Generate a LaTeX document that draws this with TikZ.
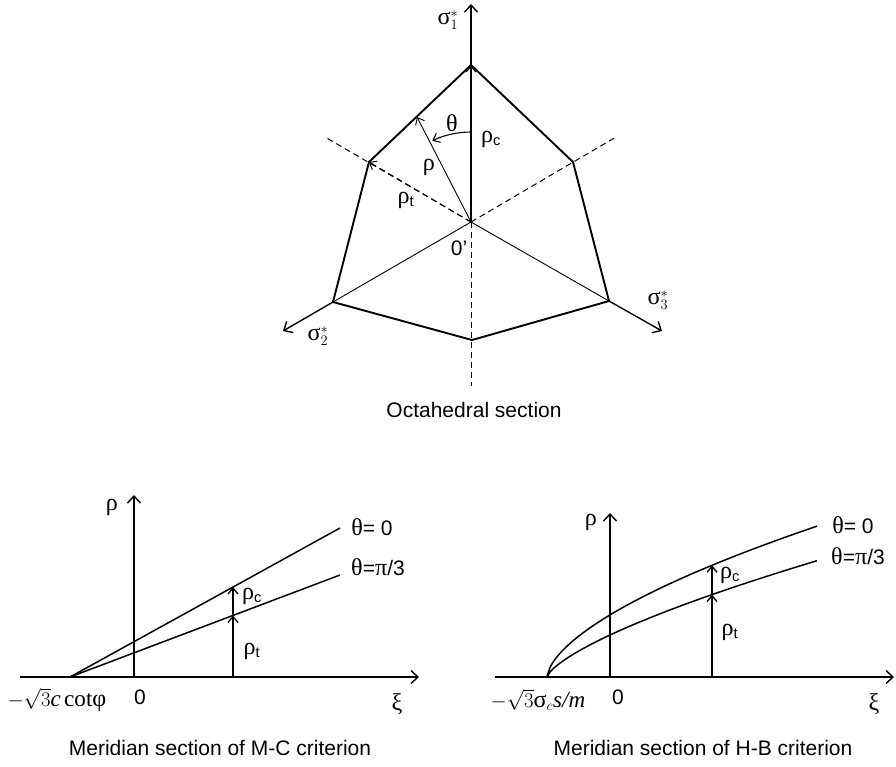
\documentclass[tikz,border=0pt]{standalone}
\usepackage{fontspec}
\setmainfont{Liberation Sans}
\newfontfamily\grk[Scale=1.15]{Liberation Serif}
\newfontfamily\tms[Scale=1.1]{Liberation Serif}
\usetikzlibrary{arrows.meta}
\begin{document}
\begin{tikzpicture}[x=1pt,y=-1pt,
  lab/.style={font=\fontsize{21}{25}\selectfont, inner sep=0pt},
  ax/.style={line width=1.4pt, -{Straight Barb[length=7pt,width=13pt]}},
  edge/.style={line width=1.9pt, line join=miter},
  thinl/.style={line width=0.9pt},
  dashl/.style={line width=1pt, dash pattern=on 6pt off 4pt},
  tip/.style={-{Straight Barb[length=6pt,width=10pt]}}
]
\useasboundingbox (0,0) rectangle (896,766);
% ---------- octahedral section ----------
\coordinate (O) at (471,222);
\coordinate (V1) at (471,65);
\coordinate (V12) at (369,162);
\coordinate (V2) at (333,302);
\coordinate (V23) at (472,340);
\coordinate (V3) at (609,301);
\coordinate (V31) at (573,162);
\coordinate (S1) at (471,4);
\coordinate (S2) at (283,331);
\coordinate (S3) at (662,331);
\coordinate (DL) at (325,137);
\coordinate (DR) at (616,137);
\coordinate (DB) at (471,386);
\coordinate (R) at (417,117);
\coordinate (A0) at (471,132);
\draw[dashl] (O) -- (DL);
\draw[dashl] (O) -- (DR);
\draw[dashl] (O) -- (DB);
\draw[dashl, tip] (O) -- (V12);
\draw[thinl] (O) -- (V2);
\draw[thinl] (O) -- (V3);
\draw[ax] (V2) -- (S2);
\draw[ax] (V3) -- (S3);
\draw[ax] (V1) -- (S1);
\draw[line width=1.3pt, tip] (O) -- (V1);
\draw[thinl, tip] (O) -- (R);
\draw[line width=1.1pt, tip] (A0) arc[start angle=-90, end angle=-115.5, radius=90];
\draw[edge] (V1) -- (V12) -- (V2) -- (V23) -- (V3) -- (V31) -- cycle;
\node[lab] (s1) at (448,20) {$\mbox{\grk σ}^{*}_{1}$};
\node[lab] (s2) at (318,336) {$\mbox{\grk σ}^{*}_{2}$};
\node[lab] (s3) at (658,300) {$\mbox{\grk σ}^{*}_{3}$};
\node[lab] (th) at (452,123) {\grk θ};
\node[lab] (rc) at (491,139) {{\grk ρ}$_{\mathrm{c}}$};
\node[lab] (rr) at (429,167) {\grk ρ};
\node[lab] (rt) at (406,200) {{\grk ρ}$_{\mathrm{t}}$};
\node[lab] (o1) at (459,248) {0’};
\node[lab] (cap1) at (474,410) {Octahedral section};
% ---------- M-C meridian ----------
\coordinate (LO) at (70,677);
\coordinate (LX0) at (20,677);
\coordinate (LX1) at (419,677);
\coordinate (LY0) at (134,677);
\coordinate (LY1) at (134,495);
\coordinate (LA) at (340,528);
\coordinate (LB) at (340,575);
\coordinate (LQ0) at (233,677);
\coordinate (LQ1) at (233,615.5);
\coordinate (LQ2) at (233,587);
\draw[ax] (LX0) -- (LX1);
\draw[ax] (LY0) -- (LY1);
\draw[line width=1.5pt] (LO) -- (LA);
\draw[line width=1.5pt] (LO) -- (LB);
\draw[line width=1.3pt, tip] (LQ0) -- (LQ1);
\draw[line width=1.3pt, tip] (LQ1) -- (LQ2);
\node[lab] (lrho) at (112,507) {\grk ρ};
\node[lab] (lt0) at (372,527) {{\grk θ}= 0};
\node[lab] (lt3) at (378,567) {{\grk θ}={\grk π}/3};
\node[lab] (lrc) at (252,596) {{\grk ρ}$_{\mathrm{c}}$};
\node[lab] (lrt) at (252,651) {{\grk ρ}$_{\mathrm{t}}$};
\node[lab] (lxi0) at (57,700) {$-\sqrt{3}\mbox{\tms\itshape c}\,\mbox{\tms cot}\mbox{\grk φ}$};
\node[lab] (lz) at (140,697) {0};
\node[lab] (lxi) at (397,704) {\grk ξ};
\node[lab] (cap2) at (220,748) {Meridian section of M-C criterion};
% ---------- H-B meridian ----------
\coordinate (RO) at (547,677);
\coordinate (RX0) at (495,677);
\coordinate (RX1) at (894,677);
\coordinate (RY0) at (610,677);
\coordinate (RY1) at (610,513);
\coordinate (RQ0) at (712,677);
\coordinate (RQ1) at (712,594.6);
\coordinate (RQ2) at (712,565.3);
\draw[ax] (RX0) -- (RX1);
\draw[ax] (RY0) -- (RY1);
\draw[line width=1.5pt] (RO) -- plot[domain=0.02:270, samples=90] ({547+\x},{677-4.96*(\x)^0.61});
\draw[line width=1.5pt] (RO) -- plot[domain=0.02:270, samples=90] ({547+\x},{677-2.31*(\x)^0.7});
\draw[line width=1.3pt, tip] (RQ0) -- (RQ1);
\draw[line width=1.3pt, tip] (RQ1) -- (RQ2);
\node[lab] (rrho) at (591,522) {\grk ρ};
\node[lab] (rt0) at (853,525) {{\grk θ}= 0};
\node[lab] (rt3) at (858,556) {{\grk θ}={\grk π}/3};
\node[lab] (rrc) at (730,575) {{\grk ρ}$_{\mathrm{c}}$};
\node[lab] (rrt) at (730,632) {{\grk ρ}$_{\mathrm{t}}$};
\node[lab] (rxi0) at (538,700) {$-\sqrt{3}\mbox{\grk σ}_{c}\mbox{\tms\itshape s/m}$};
\node[lab] (rz) at (618,697) {0};
\node[lab] (rxi) at (874,704) {\grk ξ};
\node[lab] (cap3) at (703,748) {Meridian section of H-B criterion};
\end{tikzpicture}
\end{document}
